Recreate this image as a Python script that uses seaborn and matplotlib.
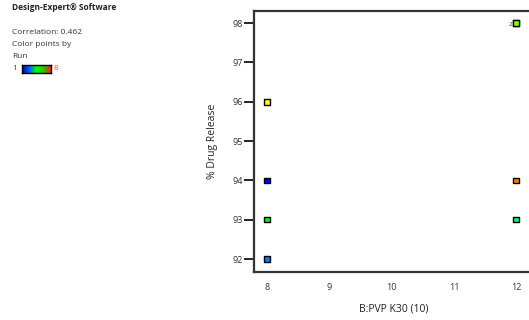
import matplotlib
matplotlib.use("Agg")
import matplotlib.pyplot as plt
import seaborn as sns
import numpy as np
import pandas as pd
from matplotlib.colors import LinearSegmentedColormap

sns.set_style("white")
plt.rcParams['font.family'] = ['Open Sans', 'DejaVu Sans']

# Data
runs = [1, 2, 3, 4, 5, 6, 7, 8]
pvp_k30 = [8, 8, 12, 8, 12, 12, 8, 12]
drug_release = [94, 92, 93, 93, 98, 98, 96, 94]
run_colors = ["#0000ff", "#0080ff", "#00ff80", "#00ff00", "#80ff00", "#80ff00", "#ffff00", "#ff8000"]
x_ticks = [8, 9, 10, 11, 12]
y_ticks = [92, 93, 94, 95, 96, 97, 98]

df = pd.DataFrame({"run": runs, "x": pvp_k30, "y": drug_release})

fig = plt.figure(figsize=(5.29, 3.20), dpi=100)
ax = fig.add_axes([254/529, 48/320, 1 - 254/529 + 0.01, 261/320])

sns.scatterplot(data=df, x="x", y="y", hue="run", palette=dict(zip(runs, run_colors)),
                marker="s", s=16, edgecolor="black", linewidth=1.0, legend=False, ax=ax, zorder=3)

ax.text(11.94, 97.97, "2", fontsize=4.5, ha="right", va="center", color="#333333")

ax.set_xlim(7.79, 12.29)
ax.set_ylim(91.67, 98.31)
ax.set_xticks(x_ticks)
ax.set_yticks(y_ticks)
ax.tick_params(axis="y", left=True, direction="out", length=7, width=1.2, color="black", labelsize=6.5, pad=1, labelcolor="#333333")
ax.tick_params(axis="x", bottom=False, length=0, labelsize=6.5, pad=8, labelcolor="#333333")
ax.set_xlabel("B:PVP K30 (10)", fontsize=7.5, labelpad=8, color="#222222")
ax.set_ylabel("% Drug Release", fontsize=7.5, labelpad=10, color="#222222")
for side in ["left", "bottom", "top"]:
    ax.spines[side].set_color("#333333")
    ax.spines[side].set_linewidth(1.6)
ax.spines["right"].set_visible(False)

# Side annotation
fig.text(12/529, 1 - 8/320, "Design-Expert® Software", fontsize=6, fontweight="bold", va="center", color="#222222")
fig.text(12/529, 1 - 33/320, "Correlation: 0.462", fontsize=6, va="center", color="#333333")
fig.text(12/529, 1 - 45/320, "Color points by", fontsize=6, va="center", color="#333333")
fig.text(12/529, 1 - 57/320, "Run", fontsize=6, va="center", color="#333333")
fig.text(12/529, 1 - 69/320, "1", fontsize=6, va="center", color="#3333cc")
fig.text(54/529, 1 - 69/320, "8", fontsize=6, va="center", color="#ff4444")
cax = fig.add_axes([22/529, 1 - 73/320, 29/529, 8/320])
cmap = LinearSegmentedColormap.from_list("run", ["#0000aa", "#0060ff", "#00ff00", "#30c000", "#ff2000"])
cax.imshow(np.linspace(0, 1, 100)[None, :], aspect="auto", cmap=cmap)
cax.set_xticks([]); cax.set_yticks([])
for s in cax.spines.values():
    s.set_linewidth(1.0); s.set_color("black")

fig.savefig("out.png", dpi=100)
